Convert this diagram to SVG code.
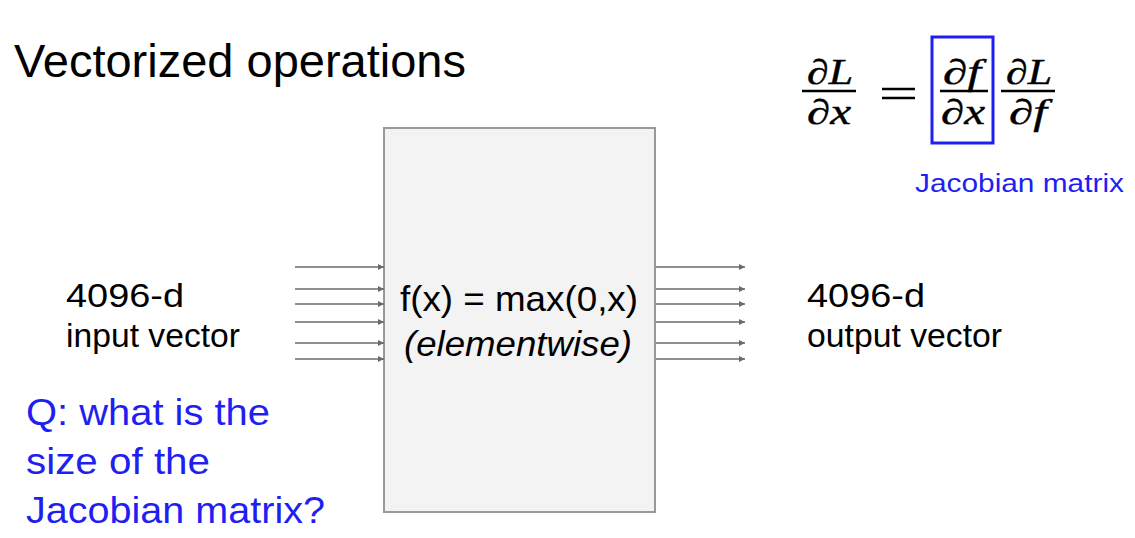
<svg xmlns="http://www.w3.org/2000/svg" width="1135" height="538" viewBox="0 0 1135 538">
<defs>
<style>
.t{font-family:"Liberation Sans",Arial,sans-serif;fill:#000}
.b{font-family:"Liberation Sans",Arial,sans-serif;fill:#1f1ff2}
.m{font-family:"Liberation Serif","Times New Roman",serif;font-style:italic;fill:#000;font-size:35px;stroke:#000;stroke-width:0.4}
.d{font-style:normal}
.bar{stroke:#000;stroke-width:2.5}
.ar{stroke:#6a6a6a;stroke-width:1.5;fill:none;marker-end:url(#ah)}
</style>
<marker id="ah" viewBox="0 0 10 10" refX="10" refY="5" markerWidth="6" markerHeight="6" markerUnits="userSpaceOnUse" orient="auto">
<path d="M0,0 L10,5 L0,10 z" fill="#6a6a6a"/>
</marker>
</defs>
<rect width="1135" height="538" fill="#fff"/>
<text class="t" x="14" y="77" font-size="46" textLength="452" lengthAdjust="spacingAndGlyphs">Vectorized operations</text>
<g id="equation">
<text class="m" x="807" y="84" textLength="46" lengthAdjust="spacingAndGlyphs"><tspan class="d">∂</tspan>L</text>
<line class="bar" x1="802" y1="91" x2="856" y2="91"/>
<text class="m" x="807" y="124" textLength="44" lengthAdjust="spacingAndGlyphs"><tspan class="d">∂</tspan>x</text>
<line class="bar" x1="882" y1="89" x2="915" y2="89" stroke-width="2"/>
<line class="bar" x1="882" y1="98" x2="915" y2="98" stroke-width="2"/>
<rect x="932" y="37" width="61" height="106" fill="none" stroke="#1f1ff2" stroke-width="3"/>
<text class="m" x="943" y="84" textLength="38" lengthAdjust="spacingAndGlyphs"><tspan class="d">∂</tspan>f</text>
<line class="bar" x1="940" y1="91" x2="988" y2="91"/>
<text class="m" x="941" y="124" textLength="44" lengthAdjust="spacingAndGlyphs"><tspan class="d">∂</tspan>x</text>
<text class="m" x="1006" y="84" textLength="46" lengthAdjust="spacingAndGlyphs"><tspan class="d">∂</tspan>L</text>
<line class="bar" x1="1001" y1="91" x2="1055" y2="91"/>
<text class="m" x="1009" y="124" textLength="38" lengthAdjust="spacingAndGlyphs"><tspan class="d">∂</tspan>f</text>
</g>
<text class="b" x="915" y="192" font-size="26" textLength="209" lengthAdjust="spacingAndGlyphs">Jacobian matrix</text>
<g id="node-relu">
<rect x="384" y="128" width="271" height="384" fill="#f3f3f3" stroke="#9a9a9a" stroke-width="2"/>
<text class="t" x="400" y="311" font-size="35" textLength="238" lengthAdjust="spacingAndGlyphs">f(x) = max(0,x)</text>
<text class="t" x="404" y="356" font-size="35" font-style="italic" textLength="228" lengthAdjust="spacingAndGlyphs">(elementwise)</text>
</g>
<g id="node-input">
<text class="t" x="66" y="307" font-size="33" textLength="118" lengthAdjust="spacingAndGlyphs">4096-d</text>
<text class="t" x="66" y="347" font-size="33" textLength="174" lengthAdjust="spacingAndGlyphs">input vector</text>
</g>
<g id="node-output">
<text class="t" x="807" y="307" font-size="33" textLength="118" lengthAdjust="spacingAndGlyphs">4096-d</text>
<text class="t" x="807" y="347" font-size="33" textLength="195" lengthAdjust="spacingAndGlyphs">output vector</text>
</g>
<g id="question">
<text class="b" x="26" y="425" font-size="36" textLength="244" lengthAdjust="spacingAndGlyphs">Q: what is the</text>
<text class="b" x="26" y="474" font-size="36" textLength="184" lengthAdjust="spacingAndGlyphs">size of the</text>
<text class="b" x="26" y="523" font-size="36" textLength="299" lengthAdjust="spacingAndGlyphs">Jacobian matrix?</text>
</g>
<g id="connectors">
<line class="ar" x1="295" y1="267" x2="384" y2="267"/>
<line class="ar" x1="295" y1="289" x2="384" y2="289"/>
<line class="ar" x1="295" y1="304" x2="384" y2="304"/>
<line class="ar" x1="295" y1="322" x2="384" y2="322"/>
<line class="ar" x1="295" y1="343" x2="384" y2="343"/>
<line class="ar" x1="295" y1="359" x2="384" y2="359"/>
<line class="ar" x1="656" y1="267" x2="745" y2="267"/>
<line class="ar" x1="656" y1="289" x2="745" y2="289"/>
<line class="ar" x1="656" y1="304" x2="745" y2="304"/>
<line class="ar" x1="656" y1="322" x2="745" y2="322"/>
<line class="ar" x1="656" y1="343" x2="745" y2="343"/>
<line class="ar" x1="656" y1="359" x2="745" y2="359"/>
</g>
</svg>
